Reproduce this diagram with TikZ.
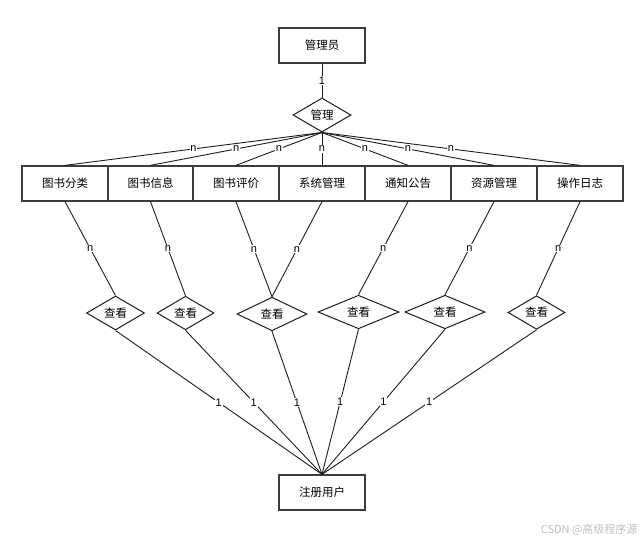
\documentclass[tikz,border=0pt]{standalone}
\usepackage{fontspec}
\setmainfont{Liberation Sans}
\newfontfamily\cjk{Noto Sans CJK SC}
\usetikzlibrary{shapes.geometric}
\definecolor{ink}{RGB}{30,30,30}
\definecolor{frame}{RGB}{60,60,60}
\tikzset{
  ent/.style={draw=frame,line width=1.3pt,minimum width=86pt,
    minimum height=35pt,inner sep=0pt,font=\cjk\fontsize{11.5}{12}\selectfont},
  rel/.style={diamond,draw=ink,line width=1pt,fill=white,inner sep=0pt,
    font=\cjk\fontsize{11.5}{12}\selectfont},
  link/.style={draw=ink,line width=0.9pt},
  card/.style={fill=white,inner sep=0.8pt,font=\fontsize{11}{12}\selectfont,text=black},
}
\begin{document}
\begin{tikzpicture}[x=1pt,y=-1pt]
  \useasboundingbox[fill=white] (0,0) rectangle (643,542);
  % entities
  \node[ent] (admin) at (322,45.5) {管理员};
  \node[ent] (user) at (322,492.5) {注册用户};
  \foreach \i/\x/\t in {1/65/图书分类,2/150.5/图书信息,3/236/图书评价,4/322/系统管理,
      5/408/通知公告,6/494/资源管理,7/580/操作日志}
    \node[ent] (ent\i) at (\x,183.5) {\t};
  % relations
  \node[rel,minimum width=58pt,minimum height=34pt] (manage) at (322,115) {管理};
  \foreach \i/\x/\y/\w/\h in {1/115.5/313/58/34,2/185.5/313/57/33,3/272/314/70/28,
      4/358.5/312/81/32,5/445/312/80/32,6/536.5/312.5/57/33}
    \node[rel,minimum width=\w pt,minimum height=\h pt] (look\i) at (\x,\y) {查看};
  % links
  \draw[link] (admin) -- node[card]{1} (manage);
  \foreach \i in {1,...,7}
    \draw[link] (manage.south) -- node[card]{n} (ent\i.north);
  \foreach \e/\d in {1/1,2/2,3/3,4/3,5/4,6/5,7/6}
    \draw[link] (ent\e.south) -- node[card]{n} (look\d.north);
  \foreach \d in {1,...,6}
    \draw[link] (look\d.south) -- node[card]{1} (user.north);
  \node[anchor=east,text=gray!50,font=\cjk\fontsize{11}{12}\selectfont] (mark) at (641,530) {CSDN @高级程序源};
\end{tikzpicture}
\end{document}
